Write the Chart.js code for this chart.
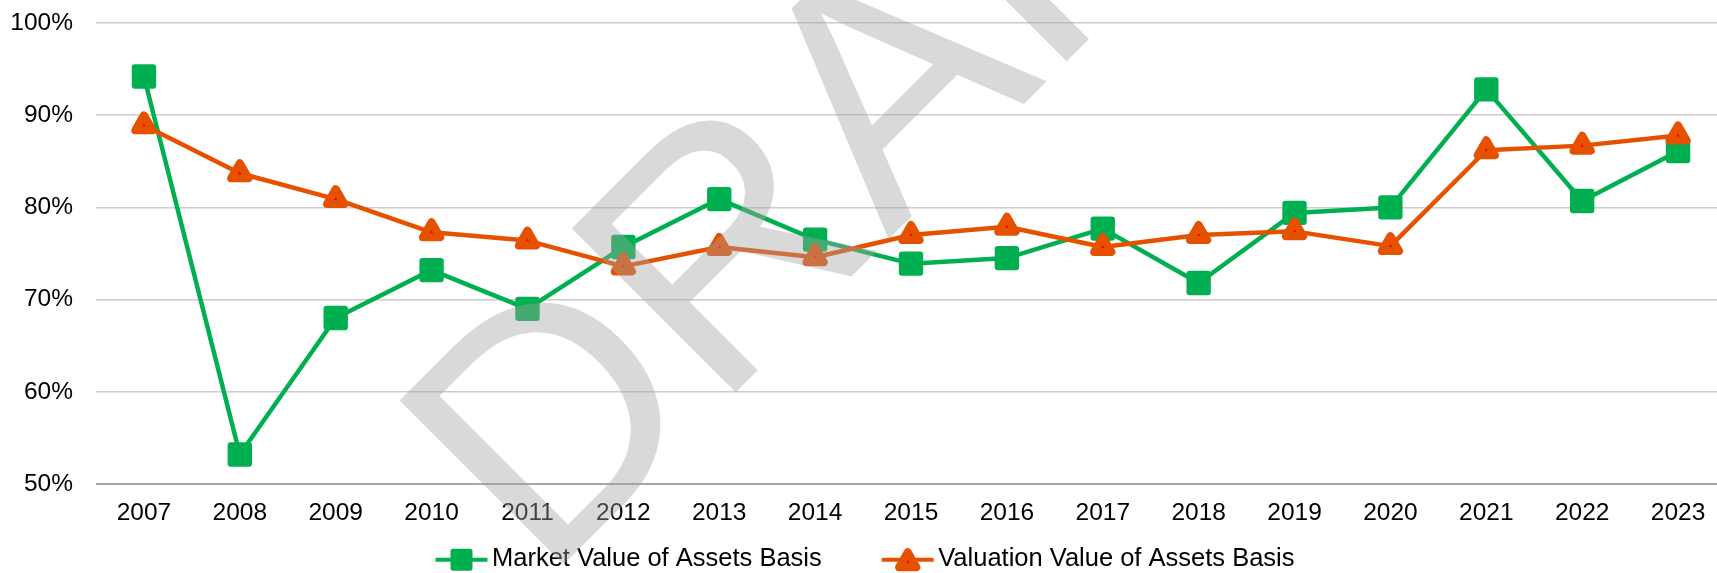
<!DOCTYPE html>
<html>
<head>
<meta charset="utf-8">
<script src="https://cdn.jsdelivr.net/npm/chart.js@4.4.1/dist/chart.umd.min.js"></script>
<style>
html, body { margin: 0; padding: 0; background: #fff; overflow: hidden; }
#wrap { position: relative; width: 1730px; height: 573px; }
</style>
</head>
<body>
<div id="wrap"><canvas id="myChart"></canvas></div>
<script>
var ctx = document.getElementById('myChart');

// x categories
const years = ['2007', '2008', '2009', '2010', '2011', '2012', '2013', '2014', '2015',
               '2016', '2017', '2018', '2019', '2020', '2021', '2022', '2023'];
// funded ratio in percent
const marketValues = [94.2, 53.2, 68.0, 73.2, 69.0, 75.7, 80.9, 76.5, 73.9,
                      74.5, 77.7, 71.8, 79.4, 80.0, 92.8, 80.7, 86.1];
const valuationValues = [88.9, 83.7, 80.9, 77.3, 76.4, 73.6, 75.7, 74.6, 77.0,
                         77.9, 75.7, 77.0, 77.4, 75.8, 86.2, 86.7, 87.8];
const seriesNames = ['Market Value of Assets Basis', 'Valuation Value of Assets Basis'];
// y axis ticks
const yMin = 50, yMax = 100, yStep = 10;

const green = '#00B050';
const orange = '#E65100';
const red = '#FF0000';
const fontFamily = "'Liberation Sans', Arial, sans-serif";

// excel style markers have round corners
const markerJoin = {
    id: 'markerJoin',
    beforeDatasetsDraw(chart) { chart.ctx.lineJoin = 'round'; },
    afterDatasetsDraw(chart) { chart.ctx.lineJoin = 'miter'; }
};

// legend with line + marker like excel, centered under the chart
function drawIcon(c, ds, x, cy) {
    c.save();
    c.lineJoin = 'round';
    c.strokeStyle = ds.borderColor;
    c.lineWidth = 4;
    c.beginPath();
    c.moveTo(x, cy);
    c.lineTo(x + 52, cy);
    c.stroke();
    let mx = x + 26;
    c.fillStyle = ds.pointBackgroundColor;
    c.strokeStyle = ds.pointBorderColor;
    c.beginPath();
    if (ds.pointStyle === 'rect') {
        c.lineWidth = 5;
        c.rect(mx - 8.5, cy - 8.5, 17, 17);
    } else {
        c.lineWidth = 8;
        let r = 10, y0 = cy + 2.5;
        c.moveTo(mx, y0 - r);
        c.lineTo(mx + r * Math.sin(Math.PI * 2 / 3), y0 + r / 2);
        c.lineTo(mx - r * Math.sin(Math.PI * 2 / 3), y0 + r / 2);
        c.closePath();
    }
    c.fill();
    c.stroke();
    c.restore();
}

const bottomLegend = {
    id: 'bottomLegend',
    afterDraw(chart) {
        const c = chart.ctx;
        const sets = chart.data.datasets;
        c.save();
        c.font = '25.5px ' + fontFamily;
        c.fillStyle = '#000';
        c.textBaseline = 'middle';
        let widths = sets.map(ds => c.measureText(ds.label).width);
        let total = 0;
        for (var i = 0; i < sets.length; i++) {
            total += 52 + 4.5 + widths[i];
        }
        total += 60 * (sets.length - 1);
        let x = (chart.width - total) / 2;
        let cy = chart.height - 13.3;
        for (var i = 0; i < sets.length; i++) {
            drawIcon(c, sets[i], x, cy);
            c.fillText(sets[i].label, x + 56.5, cy - 0.7);
            x += 52 + 4.5 + widths[i] + 60;
        }
        c.restore();
    }
};

// the grey DRAFT stamp lying over the chart
const watermark = {
    id: 'watermark',
    afterDraw(chart) {
        const c = chart.ctx;
        c.save();
        c.translate(544, 584);
        c.rotate(-Math.PI / 4);
        c.font = '337px ' + fontFamily;
        c.fillStyle = 'rgba(162,162,162,0.41)';
        c.textBaseline = 'alphabetic';
        c.fillText('DRAFT', 0, 0);
        c.restore();
    }
};

var lineChart = new Chart(ctx, {
    type: 'line',
    data: {
        labels: years,
        datasets: [
            {
                label: seriesNames[0],
                data: marketValues,
                borderColor: green,
                backgroundColor: green,
                borderWidth: 4.5,
                borderJoinStyle: 'round',
                tension: 0,
                pointStyle: 'rect',
                pointRadius: 13,
                pointHoverRadius: 13,
                pointBorderWidth: 6,
                pointBackgroundColor: green,
                pointBorderColor: green,
                clip: false,
                order: 2
            },
            {
                label: seriesNames[1],
                data: valuationValues,
                borderColor: orange,
                backgroundColor: orange,
                borderWidth: 4.5,
                borderJoinStyle: 'round',
                tension: 0,
                pointStyle: 'triangle',
                pointRadius: 10,
                pointHoverRadius: 10,
                pointBorderWidth: 8,
                pointBackgroundColor: red,
                pointBorderColor: orange,
                clip: false,
                order: 1
            }
        ]
    },
    options: {
        responsive: true,
        maintainAspectRatio: false,
        animation: false,
        layout: {
            autoPadding: false,
            padding: { top: 23, right: 4, bottom: 45, left: 0 }
        },
        plugins: {
            legend: { display: false },
            tooltip: { enabled: false }
        },
        scales: {
            x: {
                offset: true,
                grid: { display: false, drawTicks: false },
                border: { display: false },
                ticks: {
                    color: '#000',
                    font: { family: fontFamily, size: 24.5 },
                    padding: 15,
                    maxRotation: 0,
                    autoSkip: false
                },
                // label line + padding only (chart.js counts padding twice)
                afterFit: s => { s.height = 44; }
            },
            y: {
                min: yMin,
                max: yMax,
                border: { display: false },
                grid: {
                    drawTicks: false,
                    color: c => c.tick.value === yMin ? '#a6a6a6' : '#cccccc',
                    lineWidth: c => c.tick.value === yMin ? 2 : 1.5
                },
                ticks: {
                    stepSize: yStep,
                    color: '#000',
                    font: { family: fontFamily, size: 24.5 },
                    padding: 23,
                    callback: v => v + '%'
                },
                afterFit: s => {
                    s.width = 96;
                    s.paddingTop = 0;
                    s.paddingBottom = 0;
                }
            }
        }
    },
    plugins: [markerJoin, bottomLegend, watermark]
});
</script>
</body>
</html>
